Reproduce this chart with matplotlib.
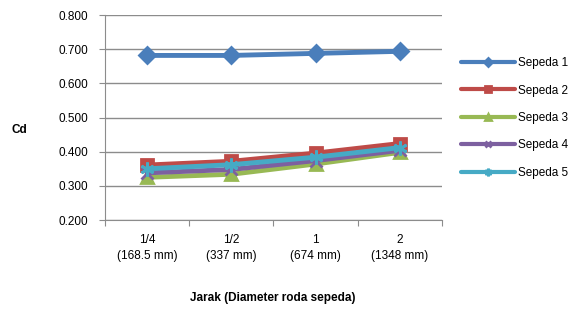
import numpy as np
import matplotlib.pyplot as plt

plt.rcParams['font.family'] = ['Liberation Sans', 'DejaVu Sans']

# data
categories = ['1/4\n(168.5 mm)', '1/2\n(337 mm)', '1\n(674 mm)', '2\n(1348 mm)']
sepeda_1 = [0.682, 0.682, 0.688, 0.694]
sepeda_2 = [0.361, 0.372, 0.396, 0.424]
sepeda_3 = [0.325, 0.334, 0.364, 0.398]
sepeda_4 = [0.338, 0.348, 0.374, 0.404]
sepeda_5 = [0.350, 0.362, 0.384, 0.412]
names = ['Sepeda 1', 'Sepeda 2', 'Sepeda 3', 'Sepeda 4', 'Sepeda 5']

series = [sepeda_1, sepeda_2, sepeda_3, sepeda_4, sepeda_5]
colors = ['#4a7ebb', '#be4b48', '#98b954', '#7d60a0', '#46aac5']
markers = ['D', 's', '^', 'x', (6, 2, 0)]
msizes = [8, 9, 9, 8, 10]

fig = plt.figure(figsize=(5.81, 3.09), dpi=100)
ax = fig.add_axes([0.1807, 0.288, 0.580, 0.663])

x = np.arange(len(categories)) + 0.5
for vals, name, c, m, ms in zip(series, names, colors, markers, msizes):
    ax.plot(x, vals, color=c, lw=3.5, marker=m, ms=ms, mew=2, mec=c, mfc=c,
            label=name, solid_capstyle='round')

ax.set_xlim(0, 4)
ax.set_ylim(0.2, 0.8)
yt = np.arange(0.2, 0.81, 0.1)
ax.set_yticks(yt)
ax.set_yticklabels(['%.3f' % v for v in yt], fontsize=8.5)
ax.yaxis.grid(True, color='#8c8c8c', lw=1)
ax.set_axisbelow(True)

ax.set_xticks(np.arange(0, 5))
ax.set_xticklabels([])
ax.set_xticks(x, minor=True)
ax.set_xticklabels(categories, minor=True, fontsize=8.5, linespacing=1.5)
ax.tick_params(axis='x', which='minor', length=0, pad=10)
ax.tick_params(axis='both', which='major', direction='out', length=4,
               color='#8c8c8c', pad=8)

for side in ['top', 'right']:
    ax.spines[side].set_visible(False)
for side in ['left', 'bottom']:
    ax.spines[side].set_color('#8c8c8c')

fig.text(0.033, 0.58, 'Cd', fontsize=8.5, fontweight='bold', ha='center', va='center')
fig.text(0.47, 0.035, 'Jarak (Diameter roda sepeda)', fontsize=8.5, fontweight='bold',
         ha='center', va='center')

leg = fig.legend(loc='upper left', bbox_to_anchor=(0.785, 0.83), frameon=False,
                 fontsize=8.5, handlelength=4.6, labelspacing=1.3, markerscale=0.55,
                 handletextpad=0.25, borderaxespad=0)
for h in leg.legend_handles:
    h.set_linewidth(3)

plt.savefig('out.png', dpi=100)
